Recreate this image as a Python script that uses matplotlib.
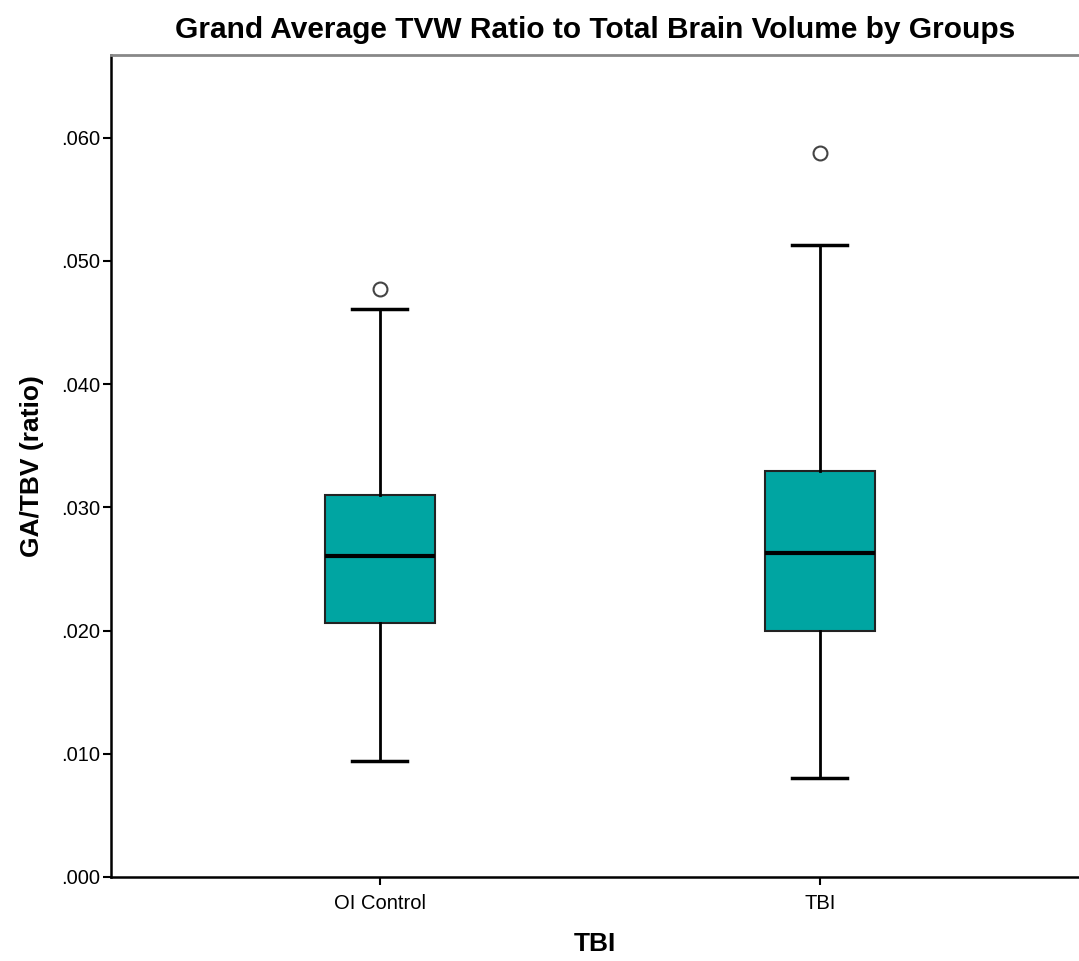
import matplotlib
matplotlib.use("Agg")
import matplotlib.pyplot as plt

plt.rcParams['font.family'] = ['Liberation Sans', 'DejaVu Sans']

groups = ["OI Control", "TBI"]
q1 = [0.02057, 0.01997]
med = [0.02608, 0.02625]
q3 = [0.03103, 0.03292]
whislo = [0.00941, 0.00803]
whishi = [0.04611, 0.05132]
outliers = [[0.04773], [0.05876]]
yticks = [0.0, 0.01, 0.02, 0.03, 0.04, 0.05, 0.06]
ytick_labels = [".000", ".010", ".020", ".030", ".040", ".050", ".060"]

fig = plt.figure(figsize=(10.79, 9.61), dpi=100)
ax = fig.add_axes([111/1079, 84/961, 968/1079, 822/961])

stats = []
for i, g in enumerate(groups):
    stats.append(dict(label=g, q1=q1[i], med=med[i], q3=q3[i],
                      whislo=whislo[i], whishi=whishi[i], fliers=outliers[i]))

ax.bxp(stats, positions=[1, 2], widths=0.25, patch_artist=True,
       boxprops=dict(facecolor='#00a5a2', edgecolor='#222222', linewidth=1.5),
       medianprops=dict(color='black', linewidth=3),
       whiskerprops=dict(color='black', linewidth=2),
       capprops=dict(color='black', linewidth=2.5),
       flierprops=dict(marker='o', markersize=10, markerfacecolor='white',
                       markeredgecolor='#444444', markeredgewidth=1.5))

ax.set_xlim(0.389, 2.589)
ax.set_ylim(0, 0.0667)
ax.set_yticks(yticks)
ax.set_yticklabels(ytick_labels)
ax.set_xticks([1, 2])
ax.set_xticklabels(groups)
ax.tick_params(axis='both', direction='out', length=6, width=1.5, labelsize=14.5, colors='black')
ax.tick_params(axis='y', pad=2)
ax.tick_params(axis='x', pad=6)

ax.spines['right'].set_visible(False)
ax.spines['top'].set_color('#888888')
ax.spines['top'].set_linewidth(2)
ax.spines['left'].set_linewidth(1.8)
ax.spines['bottom'].set_linewidth(1.8)

ax.set_title("Grand Average TVW Ratio to Total Brain Volume by Groups",
             fontsize=21.5, fontweight='bold', pad=12)
ax.set_ylabel("GA/TBV (ratio)", fontsize=19, fontweight='bold', labelpad=12)
ax.set_xlabel("TBI", fontsize=19, fontweight='bold', labelpad=14)

fig.savefig("out.png", dpi=100)
